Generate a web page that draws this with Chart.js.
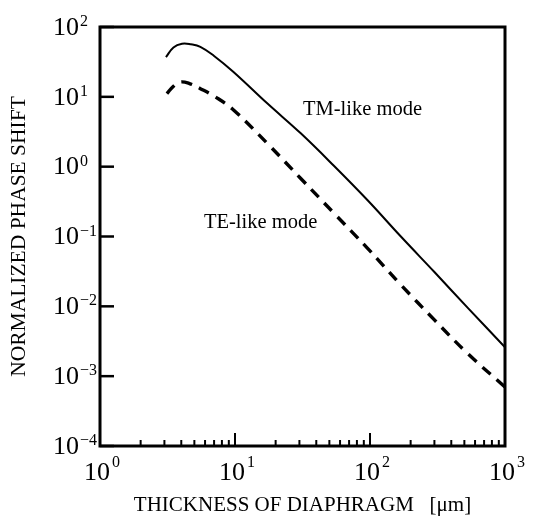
<!DOCTYPE html>
<html>
<head>
<meta charset="utf-8">
<script src="https://cdn.jsdelivr.net/npm/chart.js@4.4.1/dist/chart.umd.min.js"></script>
<style>
  html, body { margin: 0; padding: 0; background: #fff; }
  #wrap { width: 542px; height: 516px; }
</style>
</head>
<body>
<div id="wrap"><canvas id="c" width="542" height="516"></canvas></div>
<script>
// ---- data ----
const tmThickness = [3.08, 3.5, 4.05, 4.7, 5.54, 7, 9.75, 17.4, 30.7, 54, 96, 170, 300, 530, 1000];
const tmShift     = [37, 51, 57.5, 56.5, 52, 38.5, 22.7, 8.0, 3.0, 1.03, 0.33, 0.099, 0.031, 0.0095, 0.0026];
const teThickness = [3.13, 3.5, 3.93, 4.6, 5.54, 7.2, 9.8, 17.35, 30.7, 54.3, 96, 170, 300, 530, 1000];
const teShift     = [11.1, 14.2, 16.3, 15.5, 13.1, 9.9, 6.43, 2.15, 0.678, 0.214, 0.0676, 0.0202, 0.0064, 0.0021, 0.0007];
const xTickExponents = [0, 1, 2, 3];
const yTickExponents = [-4, -3, -2, -1, 0, 1, 2];
const labels = { tm: 'TM-like mode', te: 'TE-like mode' };
const xTitle = 'THICKNESS OF DIAPHRAGM   [\u03bcm]';
const yTitle = 'NORMALIZED PHASE SHIFT';

const SERIF = '"Liberation Serif", "DejaVu Serif", "Times New Roman", serif';
const expText = e => String(e).replace('-', '\u2212');

const frame = {
  id: 'frame',
  afterDatasetsDraw(chart) {
    const { ctx, chartArea: a, scales } = chart;
    ctx.save();
    ctx.strokeStyle = '#000';
    ctx.fillStyle = '#000';
    // box
    ctx.lineWidth = 3;
    ctx.strokeRect(a.left, a.top, a.right - a.left, a.bottom - a.top);
    // y major ticks, inward from left
    ctx.lineWidth = 2.5;
    yTickExponents.forEach(e => {
      const y = scales.y.getPixelForValue(Math.pow(10, e));
      ctx.beginPath(); ctx.moveTo(a.left, y); ctx.lineTo(a.left + 14, y); ctx.stroke();
    });
    // x ticks, inward from bottom (minor + major)
    ctx.lineWidth = 2;
    for (let d = 1; d < 1000; d *= 10) {
      for (let m = 1; m <= 9; m++) {
        const v = d * m;
        if (v === 1) continue;
        const x = scales.x.getPixelForValue(v);
        const len = m === 1 ? 13 : 6;
        ctx.beginPath(); ctx.moveTo(x, a.bottom); ctx.lineTo(x, a.bottom - len); ctx.stroke();
      }
    }
    // y tick labels: 10 with raised exponent
    yTickExponents.forEach(e => {
      const y = scales.y.getPixelForValue(Math.pow(10, e));
      ctx.font = '26px ' + SERIF;
      ctx.textAlign = 'right'; ctx.textBaseline = 'middle';
      ctx.fillText('10', 79, y + 1);
      ctx.font = '16px ' + SERIF;
      ctx.textAlign = 'left'; ctx.textBaseline = 'alphabetic';
      ctx.fillText(expText(e), 80, y - 1);
    });
    // x tick labels
    xTickExponents.forEach(e => {
      const x = scales.x.getPixelForValue(Math.pow(10, e));
      ctx.font = '26px ' + SERIF;
      const w1 = ctx.measureText('10').width;
      ctx.font = '16px ' + SERIF;
      const w2 = ctx.measureText(expText(e)).width;
      const start = x + 2 - (w1 + 2 + w2) / 2;
      ctx.textAlign = 'left'; ctx.textBaseline = 'alphabetic';
      ctx.font = '26px ' + SERIF;
      ctx.fillText('10', start, 480);
      ctx.font = '16px ' + SERIF;
      ctx.fillText(expText(e), start + w1 + 2, 467);
    });
    // curve labels
    ctx.font = '20.5px ' + SERIF;
    ctx.textBaseline = 'middle';
    ctx.textAlign = 'left';
    ctx.fillText(labels.tm, 303, 110);
    ctx.fillText(labels.te, 204, 223);
    ctx.restore();
  }
};

new Chart(document.getElementById('c'), {
  type: 'line',
  data: {
    datasets: [
      {
        label: labels.tm,
        data: tmThickness.map((x, i) => ({ x, y: tmShift[i] })),
        borderColor: '#000', borderWidth: 2, pointRadius: 0,
        tension: 0.4, fill: false
      },
      {
        label: labels.te,
        data: teThickness.map((x, i) => ({ x, y: teShift[i] })),
        borderColor: '#000', borderWidth: 3.4, borderDash: [11, 8], pointRadius: 0,
        tension: 0.4, fill: false
      }
    ]
  },
  options: {
    responsive: false,
    animation: false,
    devicePixelRatio: 1,
    layout: { padding: { top: 27, right: 37, left: 0, bottom: 0 } },
    plugins: { legend: { display: false }, tooltip: { enabled: false } },
    scales: {
      x: {
        type: 'logarithmic', min: 1, max: 1000,
        afterFit: s => { s.height = 70; },
        grid: { display: false },
        border: { display: false },
        ticks: { display: false },
        title: { display: true, text: xTitle, color: '#000', font: { family: SERIF, size: 21, lineHeight: 1 }, padding: { top: 0, bottom: 0 } }
      },
      y: {
        type: 'logarithmic', min: 1e-4, max: 100,
        afterFit: s => { s.width = 100; },
        grid: { display: false },
        border: { display: false },
        ticks: { display: false },
        title: { display: true, text: yTitle, color: '#000', font: { family: SERIF, size: 21.5, lineHeight: 1 }, padding: { top: 9, bottom: 0 } }
      }
    }
  },
  plugins: [frame]
});
</script>
</body>
</html>
